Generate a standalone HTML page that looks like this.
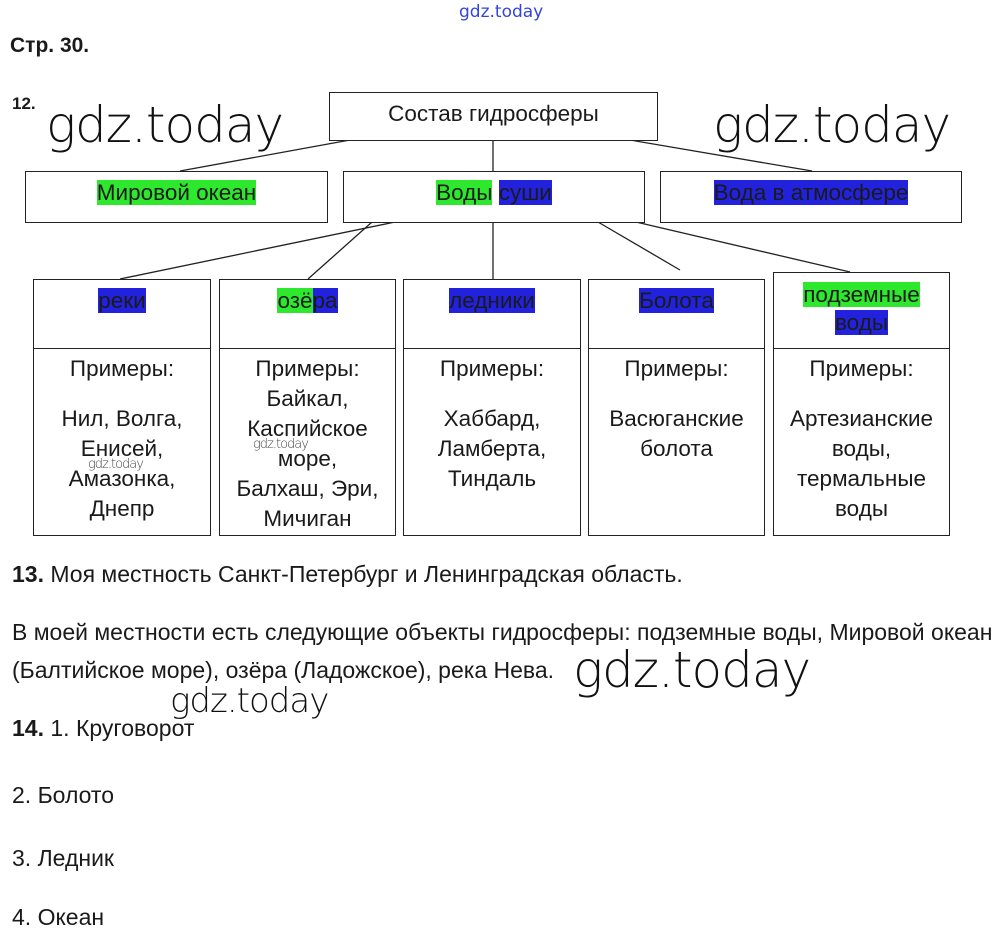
<!DOCTYPE html>
<html><head><meta charset="utf-8"><style>
body{margin:0;width:1000px;height:939px;background:#fff;position:relative;overflow:hidden;font-family:"Liberation Sans",sans-serif;color:#1a1a1a}
.a{position:absolute;white-space:nowrap}
.box{position:absolute;border:1.5px solid #222;box-sizing:border-box;background:#fff}
.c{position:absolute;left:0;right:0;text-align:center;font-size:22.5px;line-height:30px;white-space:nowrap}
.sp{height:20px}
.g{background:#2ee82e}.b{background:#2222dd}
.wm{position:absolute;font-family:"DejaVu Sans","Liberation Sans",sans-serif;font-weight:200;color:#111;white-space:nowrap;letter-spacing:-1px}
.t{font-size:23px}
</style></head><body>
<div class="a" style="left:459px;top:2px;font-size:17px;color:#3344dd;font-family:'DejaVu Sans',sans-serif">gdz.today</div>
<div class="a" style="left:10px;top:34px;font-size:21px;font-weight:bold">Стр. 30.</div>
<div class="a" style="left:12px;top:94px;font-size:17px;font-weight:bold">12.</div>

<svg style="position:absolute;left:0;top:0" width="1000" height="560">
<g stroke="#222" stroke-width="1.3">
<line x1="350" y1="140" x2="180" y2="171"/>
<line x1="493" y1="140" x2="493" y2="171"/>
<line x1="630" y1="140" x2="812" y2="171"/>
<line x1="395" y1="222" x2="120" y2="279"/>
<line x1="372" y1="222" x2="308" y2="279"/>
<line x1="493" y1="222" x2="493" y2="279"/>
<line x1="598" y1="222" x2="680" y2="270"/>
<line x1="636" y1="222" x2="850" y2="272"/>
</g></svg>

<div class="box" style="left:329px;top:92px;width:329px;height:49px"><div class="c" style="top:6px">Состав гидросферы</div></div>
<div class="box" style="left:25px;top:171px;width:303px;height:52px"><div class="c" style="top:6px"><span class="g">Мировой океан</span></div></div>
<div class="box" style="left:343px;top:171px;width:302px;height:52px"><div class="c" style="top:6px"><span class="g">Воды</span> <span class="b">суши</span></div></div>
<div class="box" style="left:660px;top:171px;width:302px;height:52px"><div class="c" style="top:6px"><span class="b">Вода в атмосфере</span></div></div>

<div class="box" style="left:33px;top:279px;width:178px;height:70px"><div class="c" style="top:6px"><span class="b">реки</span></div></div>
<div class="box" style="left:33px;top:348px;width:178px;height:188px"><div class="c" style="top:5px">Примеры:<div class="sp"></div>Нил, Волга,<br>Енисей,<br>Амазонка,<br>Днепр</div></div>
<div class="box" style="left:219px;top:279px;width:177px;height:70px"><div class="c" style="top:6px"><span class="g">озё</span><span class="b">ра</span></div></div>
<div class="box" style="left:219px;top:348px;width:177px;height:188px"><div class="c" style="top:5px">Примеры:<br>Байкал,<br>Каспийское<br>море,<br>Балхаш, Эри,<br>Мичиган</div></div>
<div class="box" style="left:403px;top:279px;width:178px;height:70px"><div class="c" style="top:6px"><span class="b">ледники</span></div></div>
<div class="box" style="left:403px;top:348px;width:178px;height:188px"><div class="c" style="top:5px">Примеры:<div class="sp"></div>Хаббард,<br>Ламберта,<br>Тиндаль</div></div>
<div class="box" style="left:588px;top:279px;width:177px;height:70px"><div class="c" style="top:6px"><span class="b">Болота</span></div></div>
<div class="box" style="left:588px;top:348px;width:177px;height:188px"><div class="c" style="top:5px">Примеры:<div class="sp"></div>Васюганские<br>болота</div></div>
<div class="box" style="left:773px;top:272px;width:177px;height:77px"><div class="c" style="top:8px;line-height:28px"><span class="g">подземные</span><br><span class="b">воды</span></div></div>
<div class="box" style="left:773px;top:348px;width:177px;height:188px"><div class="c" style="top:5px">Примеры:<div class="sp"></div>Артезианские<br>воды,<br>термальные<br>воды</div></div>

<div class="wm" style="left:88px;top:457px;font-size:13px;color:#444">gdz.today</div>
<div class="wm" style="left:253px;top:437px;font-size:13px;color:#444">gdz.today</div>

<div class="wm" style="left:46px;top:96px;font-size:50px">gdz.today</div>
<div class="wm" style="left:713px;top:96px;font-size:50px">gdz.today</div>
<div class="wm" style="left:573px;top:641px;font-size:50px">gdz.today</div>
<div class="wm" style="left:170px;top:681px;font-size:34px">gdz.today</div>

<div class="a t" style="left:12px;top:561px"><b>13.</b> Моя местность Санкт-Петербург и Ленинградская область.</div>
<div class="a t" style="left:12px;top:619px">В моей местности есть следующие объекты гидросферы: подземные воды, Мировой океан</div>
<div class="a t" style="left:12px;top:657px">(Балтийское море), озёра (Ладожское), река Нева.</div>
<div class="a t" style="left:12px;top:715px"><b>14.</b> 1. Круговорот</div>
<div class="a t" style="left:12px;top:782px">2. Болото</div>
<div class="a t" style="left:12px;top:845px">3. Ледник</div>
<div class="a t" style="left:12px;top:904px">4. Океан</div>
</body></html>
